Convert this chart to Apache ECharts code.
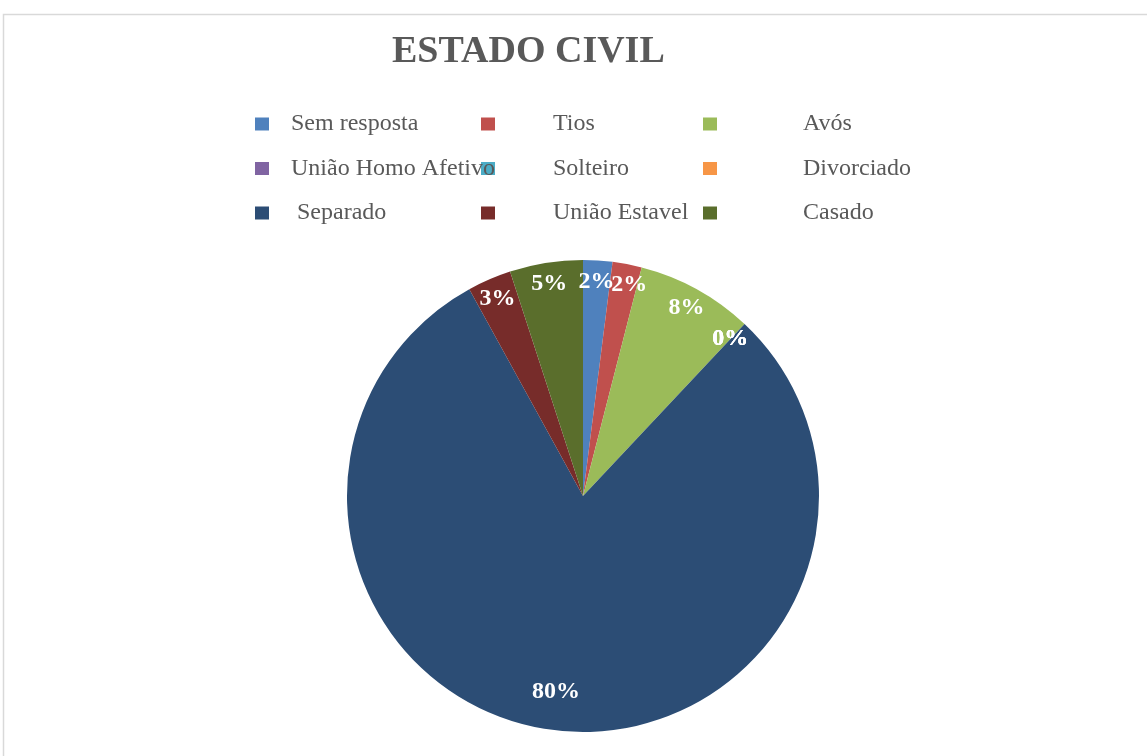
<!DOCTYPE html>
<html>
<head>
<meta charset="utf-8">
<script src="https://cdn.jsdelivr.net/npm/echarts@6/dist/echarts.min.js"></script>
<style>
html,body{margin:0;padding:0;background:#fff;}
#chart{width:1147px;height:756px;}
</style>
</head>
<body>
<div id="chart"></div>
<script>
const titleText = 'ESTADO CIVIL';
const categories = ['Sem resposta','Tios','Avós','União Homo Afetivo','Solteiro','Divorciado','Separado','União Estavel','Casado'];
const values = [2, 2, 8, 0, 0, 0, 80, 3, 5];
const colors = ['#4F81BD','#C0504D','#9BBB59','#8064A2','#4BACC6','#F79646','#2C4D75','#772C2A','#5A6E2C'];

const legendColumns = [
  [categories[0], categories[3], categories[6]],
  [categories[1], categories[4], categories[7]],
  [categories[2], categories[5], categories[8]]
];

const chart = echarts.init(document.getElementById('chart'), null, {renderer:'canvas'});

const serif = '"Liberation Serif", "Times New Roman", serif';
const maxVal = Math.max.apply(null, values);

const mainData = categories.map((n,i)=>({name:n, value:values[i], itemStyle:{color:colors[i]}}));
const labelData = categories.map((n,i)=>({
  name:n, value:values[i],
  label: values[i] === maxVal ? {offset:[0,-18]} : (i === 1 ? {offset:[6,0]} : {})
}));

const legendLefts = [250, 476, 698];
const textPads = [17, 53, 81];

const legends = legendColumns.map((col, k) => ({
  orient:'vertical',
  left: legendLefts[k],
  top: 107,
  z: 10 - k,
  itemWidth: 14,
  itemHeight: 13,
  itemGap: 20.5,
  icon: 'rect',
  selectedMode: false,
  data: col,
  formatter: function(name){ return name === 'Separado' ? ' ' + name : name; },
  textStyle: {
    fontFamily: serif,
    fontSize: 24,
    color: '#595959',
    lineHeight: 24,
    padding: [0, 0, 0, textPads[k]]
  }
}));

chart.setOption({
  animation:false,
  color: colors,
  title:{
    text: titleText,
    left: 387,
    top: 28,
    textStyle:{fontFamily: serif, fontSize: 38, fontWeight:'bold', color:'#595959'}
  },
  legend: legends,
  graphic:[{
    type:'rect',
    shape:{x:3.5, y:14.5, width:1160, height:760},
    style:{fill:'none', stroke:'#d9d9d9', lineWidth:1.5},
    silent:true
  }],
  series:[
    {
      type:'pie',
      center:[583, 496],
      radius:[0, 236],
      startAngle:90,
      clockwise:true,
      avoidLabelOverlap:false,
      label:{show:false},
      labelLine:{show:false},
      itemStyle:{borderWidth:0},
      emphasis:{disabled:true},
      data: mainData
    },
    {
      type:'pie',
      center:[583, 496],
      radius:[188, 236],
      startAngle:90,
      clockwise:true,
      silent:true,
      avoidLabelOverlap:false,
      legendHoverLink:false,
      minShowLabelAngle:0,
      labelLayout:{hideOverlap:false},
      itemStyle:{color:'rgba(0,0,0,0)', borderWidth:0},
      labelLine:{show:false},
      label:{
        show:true,
        position:'inside',
        formatter:'{c}%',
        fontFamily: serif,
        fontWeight:'bold',
        fontSize: 24,
        color:'#ffffff'
      },
      emphasis:{disabled:true},
      data: labelData
    }
  ]
});
</script>
</body>
</html>
